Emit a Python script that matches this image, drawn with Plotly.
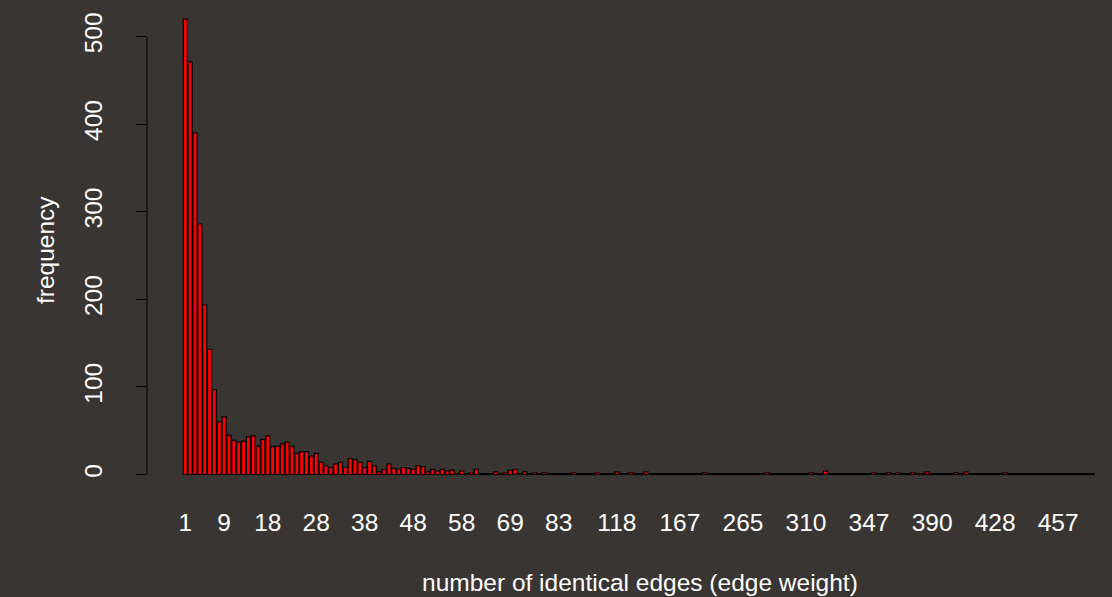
import plotly.graph_objects as go

# Distinct edge weights (one bar per observed value)
weights = (
    list(range(1, 59))
    + [59, 60, 61, 62, 63, 64, 66, 67, 68]
    + [69]
    + [70, 71, 72, 74, 75, 77, 78, 80, 81]
    + [83]
    + [85, 87, 89, 91, 94, 97, 100, 104, 107, 111, 115]
    + [118]
    + [121, 124, 128, 131, 135, 139, 143, 147, 152, 156, 161, 164]
    + [167]
    + [172, 178, 185, 193, 201, 209, 217, 226, 234, 243, 251, 258]
    + [265]
    + [269, 273, 276, 280, 284, 287, 291, 295, 298, 302, 305, 307]
    + [310]
    + [313, 316, 319, 322, 325, 328, 331, 334, 337, 340, 342, 344]
    + [347]
    + [350, 354, 357, 361, 364, 368, 371, 375, 378, 382, 385, 388]
    + [390]
    + [393, 396, 399, 402, 405, 408, 411, 414, 417, 420, 423, 425]
    + [428]
    + [430, 432, 434, 436, 438, 441, 443, 445, 447, 449, 452, 454]
    + [457]
    + [462, 468, 475, 483, 492, 503, 517]
)

# How many edges carry each weight
frequency = [
    520, 471, 390, 286, 194, 143, 97, 60, 66, 45,
    39, 37, 38, 43, 44, 32, 40, 44, 32, 32,
    35, 37, 32, 24, 26, 26, 21, 24, 14, 10,
    8, 12, 14, 8, 18, 17, 14, 8, 15, 10,
    3, 6, 12, 7, 6, 8, 7, 6, 10, 9,
    3, 6, 4, 6, 4, 5, 1, 4, 1, 2,
    6, 1, 1, 1, 3, 1, 2, 5, 6, 1,
    3, 1, 2, 1, 2, 1, 1, 1, 1, 1,
    2, 1, 1, 1, 1, 2, 1, 1, 1, 3,
    1, 1, 2, 1, 1, 3, 1, 1, 1, 1,
    1, 1, 1, 1, 1, 1, 1, 2, 1, 1,
    1, 1, 1, 1, 1, 1, 1, 1, 1, 1,
    2, 1, 1, 1, 1, 1, 1, 1, 1, 2,
    1, 1, 4, 1, 1, 1, 1, 1, 1, 1,
    1, 1, 2, 1, 1, 2, 1, 2, 1, 1,
    2, 1, 1, 3, 1, 1, 1, 1, 1, 2,
    1, 3, 1, 1, 1, 1, 1, 1, 1, 2,
    1, 1, 1, 1, 1, 1, 1, 1, 1, 1,
    1, 1, 1, 1, 1, 1, 1, 1,
]

# Weights that get a label under the bars
tick_weights = [1, 9, 18, 28, 38, 48, 58, 69, 83, 118, 167, 265, 310, 347, 390, 428, 457]
y_ticks = [0, 100, 200, 300, 400, 500]

BG = "#393532"
FONT = "Liberation Sans, Arial, Helvetica, sans-serif"
FS = 24.5

fig = go.Figure(
    go.Bar(
        x=[str(w) for w in weights],
        y=frequency,
        marker=dict(color="#ff0000", line=dict(color="black", width=1.2)),
        hoverinfo="x+y",
    )
)

fig.update_layout(
    width=1112,
    height=597,
    margin=dict(l=147, r=0, t=0, b=107),
    paper_bgcolor=BG,
    plot_bgcolor=BG,
    bargap=0.167,
    showlegend=False,
    font=dict(family=FONT, size=FS, color="white"),
    xaxis=dict(
        type="category",
        range=[-7.9, 191.1],
        tickmode="array",
        tickvals=[str(w) for w in tick_weights],
        ticktext=[str(w) for w in tick_weights],
        ticks="",
        showgrid=False,
        showline=False,
        zeroline=False,
        tickfont=dict(family=FONT, size=FS, color="white"),
        ticklabelstandoff=15,
    ),
    yaxis=dict(
        range=[-17.7, 541.7],
        tickmode="array",
        tickvals=y_ticks,
        ticks="outside",
        ticklen=10,
        tickcolor="black",
        tickwidth=1,
        tickangle=-90,
        showgrid=False,
        showline=False,
        zeroline=False,
        tickfont=dict(family=FONT, size=FS, color="white"),
        ticklabelstandoff=24,
    ),
    shapes=[
        dict(
            type="line", xref="paper", yref="y",
            x0=0, x1=0, y0=0, y1=500,
            line=dict(color="black", width=1),
        )
    ],
    annotations=[
        dict(
            text="number of identical edges (edge weight)",
            xref="paper", yref="paper",
            x=(640 - 147) / 965, y=-0.188,
            xanchor="center", yanchor="middle",
            showarrow=False,
            font=dict(family=FONT, size=FS, color="white"),
        ),
        dict(
            text="frequency",
            xref="paper", yref="paper",
            x=(45 - 147) / 965, y=(490 - 250) / 490,
            xanchor="center", yanchor="middle",
            textangle=-90,
            showarrow=False,
            font=dict(family=FONT, size=FS, color="white"),
        ),
    ],
)

fig.write_html("out.html")
